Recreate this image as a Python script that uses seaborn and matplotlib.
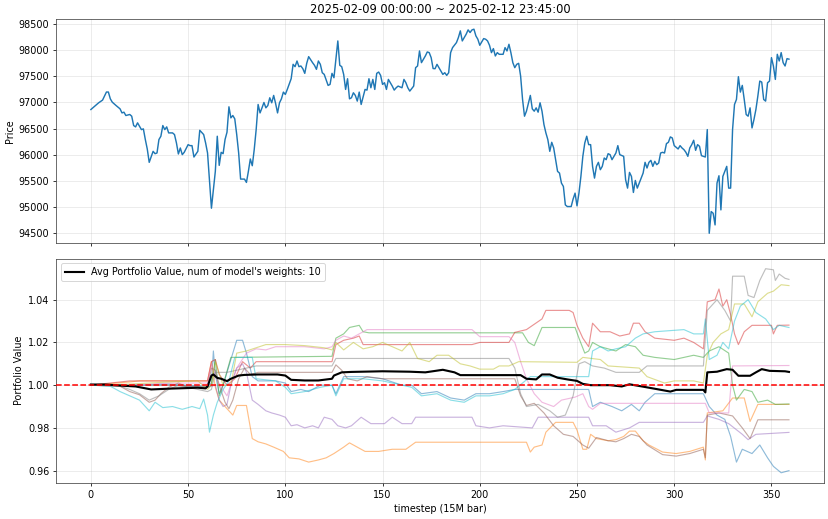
import matplotlib
matplotlib.use("Agg")
import matplotlib.pyplot as plt
import seaborn as sns

# ---- data ----
title_text = "2025-02-09 00:00:00 ~ 2025-02-12 23:45:00"

price_pts = [
    (0, 96865), (4, 96994), (6, 97045), (8, 97200), (9, 97200), (10, 97070), (11, 97006), (13, 96940),
    (15, 96878), (16, 96800), (17, 96814), (18, 96750), (20, 96770), (21, 96737), (22, 96558), (23, 96532),
    (24, 96610), (26, 96480), (27, 96494), (28, 96290), (29, 96108), (30, 95853), (32, 96064), (33, 96019),
    (34, 96032), (35, 96290), (36, 96353), (37, 96558), (38, 96480), (39, 96532), (40, 96417), (42, 96417),
    (43, 96385), (44, 96225), (45, 96013), (46, 96128), (47, 96000), (48, 96045), (50, 96192), (51, 96173),
    (52, 96173), (53, 95955), (55, 96064), (56, 96467), (58, 96385), (59, 96225), (60, 96032), (62, 94974),
    (63, 95327), (64, 95680), (65, 96353), (66, 95795), (67, 96045), (68, 96019), (69, 96290), (70, 96430),
    (71, 96917), (72, 96705), (73, 96750), (74, 96686), (75, 96385), (76, 96032), (77, 95532), (79, 95532),
    (80, 95468), (81, 95680), (82, 95917), (83, 95788), (84, 96096), (85, 96480), (86, 96962), (87, 96800),
    (88, 96897), (89, 97000), (90, 96897), (91, 96942), (92, 97090), (93, 96994), (94, 97135), (95, 96981),
    (96, 96800), (97, 96994), (98, 97070), (99, 97199), (100, 97154), (101, 97250), (103, 97455), (104, 97731),
    (105, 97686), (106, 97795), (107, 97686), (108, 97699), (109, 97647), (110, 97558), (111, 97750), (112, 97878),
    (114, 97763), (115, 97712), (116, 97635), (117, 97795), (118, 97731), (119, 97570), (120, 97538), (122, 97327),
    (123, 97346), (124, 97558), (125, 97474), (127, 98179), (128, 97712), (129, 97686), (130, 97538), (131, 97250),
    (132, 97455), (133, 97070), (134, 97090), (135, 97186), (136, 97135), (137, 97026), (138, 97199), (139, 96962),
    (141, 97250), (142, 97237), (143, 97455), (144, 97282), (145, 97442), (146, 97250), (147, 97558), (148, 97583),
    (149, 97519), (150, 97346), (151, 97378), (152, 97250), (153, 97442), (155, 97314), (156, 97237), (157, 97282),
    (158, 97314), (160, 97282), (161, 97442), (162, 97378), (163, 97282), (164, 97218), (166, 97314), (167, 97667),
    (168, 97699), (169, 97987), (170, 97763), (172, 97891), (173, 97968), (174, 97955), (175, 97859), (176, 97650),
    (177, 97647), (178, 97731), (180, 97603), (181, 97538), (182, 97570), (183, 97519), (184, 97570), (185, 97955),
    (186, 98051), (188, 98147), (189, 98244), (190, 98372), (191, 98179), (193, 98308), (194, 98391), (195, 98340),
    (196, 98391), (197, 98404), (198, 98276), (199, 98212), (200, 98096), (202, 98224), (203, 98212), (204, 98179),
    (205, 98096), (206, 97955), (207, 98032), (208, 97891), (209, 97955), (210, 97923), (212, 97923), (213, 98051),
    (214, 97987), (215, 98115), (216, 97955), (217, 97763), (218, 97667), (219, 97731), (220, 97750), (221, 97506),
    (222, 97058), (223, 96737), (224, 96833), (226, 97135), (227, 96878), (228, 96833), (229, 96897), (230, 96814),
    (231, 96994), (232, 96833), (233, 96577), (234, 96417), (235, 96288), (236, 96064), (237, 96237), (238, 96130),
    (239, 95904), (240, 95680), (241, 95647), (242, 95455), (243, 95391), (244, 95038), (245, 95006), (247, 95006),
    (248, 95150), (249, 95263), (250, 95019), (251, 95263), (252, 95583), (253, 95968), (254, 96224), (255, 96353),
    (256, 96192), (257, 96192), (258, 95776), (259, 95551), (260, 95776), (261, 95853), (262, 95712), (263, 95776),
    (264, 95936), (265, 95904), (266, 96019), (267, 96000), (268, 95904), (270, 96032), (271, 96173), (272, 96000),
    (274, 95968), (275, 95519), (276, 95359), (277, 95660), (278, 95583), (279, 95276), (280, 95506), (281, 95359),
    (282, 95455), (284, 95647), (285, 95853), (286, 95744), (287, 95853), (288, 95891), (289, 95776), (290, 95872),
    (291, 95808), (292, 95840), (293, 96032), (294, 96045), (295, 96032), (296, 96212), (297, 96237), (298, 96340),
    (299, 96320), (300, 96173), (302, 96109), (303, 96173), (304, 96128), (305, 96096), (306, 96045), (307, 95968),
    (308, 96128), (309, 96192), (310, 96276), (311, 96083), (312, 96192), (313, 96160), (314, 95981), (316, 95955),
    (317, 96481), (318, 94494), (319, 94910), (320, 94878), (321, 94654), (322, 95455), (323, 95596), (324, 94942),
    (325, 95583), (326, 95680), (327, 95776), (328, 95359), (329, 95359), (330, 96481), (331, 96962), (332, 97058),
    (333, 97494), (334, 97199), (335, 97327), (336, 97058), (337, 96769), (338, 96737), (339, 96897), (340, 96512),
    (341, 96673), (342, 96865), (343, 97122), (344, 97410), (345, 97391), (346, 97058), (347, 97026), (348, 97378),
    (349, 97410), (350, 97859), (351, 97699), (352, 97442), (353, 97923), (354, 97795), (355, 97955), (356, 97763),
    (357, 97699), (358, 97840), (359, 97830),
]

# portfolio value of each of the 10 model weights (tab10 order)
pv_blue = [
    (0, 1.0), (20, 1.0), (40, 1.0005), (60, 0.9995), (62, 1.001), (63, 1.016), (64, 1.005), (66, 0.996),
    (68, 1.0), (72, 1.012), (75, 1.021), (78, 1.021), (80, 1.015), (83, 1.004), (86, 1.002), (95, 1.002),
    (100, 1.001), (103, 0.997), (108, 0.998), (112, 0.997), (118, 1.0), (124, 1.0), (126, 0.996), (130, 1.004),
    (140, 1.004), (150, 1.003), (160, 1.0), (165, 1.0), (170, 0.996), (178, 0.997), (185, 0.994), (192, 0.993),
    (198, 0.996), (205, 0.996), (212, 0.997), (218, 0.998), (256, 0.998), (258, 0.990), (262, 0.992), (268, 0.990),
    (273, 0.988), (278, 0.991), (282, 0.988), (285, 0.992), (290, 0.996), (315, 0.996), (318, 0.990), (322, 0.986),
    (326, 0.984), (329, 0.976), (332, 0.964), (335, 0.970), (340, 0.968), (344, 0.972), (348, 0.966), (351, 0.962),
    (355, 0.959), (359, 0.960),
]
pv_orange = [
    (0, 1.0), (20, 1.0015), (25, 1.002), (60, 1.002), (62, 1.011), (64, 0.999), (66, 0.993), (69, 0.990),
    (73, 0.986), (75, 0.9905), (80, 0.9905), (83, 0.975), (86, 0.9735), (90, 0.9725), (94, 0.971), (99, 0.969),
    (102, 0.966), (107, 0.9655), (112, 0.964), (117, 0.965), (121, 0.966), (125, 0.968), (130, 0.971), (133, 0.973),
    (138, 0.9705), (141, 0.969), (148, 0.969), (155, 0.970), (162, 0.970), (167, 0.9733), (224, 0.9733), (226, 0.9687),
    (228, 0.971), (232, 0.972), (234, 0.978), (239, 0.9826), (248, 0.9826), (250, 0.979), (253, 0.970), (255, 0.970),
    (257, 0.977), (260, 0.975), (266, 0.974), (270, 0.9745), (274, 0.976), (277, 0.9785), (280, 0.9785), (284, 0.974),
    (287, 0.972), (294, 0.9687), (301, 0.968), (308, 0.969), (315, 0.971), (316, 0.965), (317, 0.987), (325, 0.988),
    (330, 0.994), (336, 0.994), (339, 0.983), (343, 0.991), (359, 0.991),
]
pv_green = [
    (0, 1.0), (20, 1.0), (40, 1.0), (60, 0.999), (62, 1.0), (64, 1.012), (66, 0.995), (68, 1.0),
    (72, 1.013), (124, 1.0135), (126, 1.022), (130, 1.024), (133, 1.027), (138, 1.028), (140, 1.025), (143, 1.0245),
    (222, 1.0245), (225, 1.020), (228, 1.0185), (232, 1.027), (249, 1.027), (251, 1.022), (254, 1.015), (256, 1.016),
    (258, 1.020), (262, 1.018), (266, 1.017), (270, 1.016), (275, 1.019), (280, 1.018), (284, 1.014), (290, 1.013),
    (300, 1.012), (310, 1.014), (315, 1.013), (318, 1.016), (323, 1.018), (328, 1.015), (330, 1.0), (332, 0.993),
    (336, 0.998), (340, 0.997), (343, 0.992), (348, 0.993), (352, 0.991), (359, 0.9912),
]
pv_red = [
    (0, 1.0), (20, 1.002), (60, 1.002), (62, 1.011), (64, 1.012), (66, 1.005), (70, 1.0), (74, 1.003),
    (78, 1.011), (82, 1.008), (85, 1.011), (124, 1.011), (126, 1.019), (130, 1.021), (135, 1.022), (138, 1.023),
    (140, 1.019), (196, 1.019), (200, 1.020), (215, 1.020), (218, 1.0247), (224, 1.026), (232, 1.031), (234, 1.035),
    (246, 1.035), (248, 1.034), (250, 1.028), (253, 1.022), (256, 1.018), (258, 1.029), (262, 1.025), (267, 1.025),
    (272, 1.023), (277, 1.024), (279, 1.029), (282, 1.029), (285, 1.025), (290, 1.022), (300, 1.021), (305, 1.022),
    (310, 1.020), (315, 1.017), (317, 1.039), (321, 1.040), (323, 1.045), (325, 1.037), (327, 1.040), (329, 1.033),
    (331, 1.024), (333, 1.019), (336, 1.025), (340, 1.028), (350, 1.028), (351, 1.024), (353, 1.028), (359, 1.0281),
]
pv_purple = [
    (0, 1.0), (20, 1.0), (40, 1.0), (60, 0.999), (64, 1.0), (66, 0.993), (68, 0.990), (70, 0.991),
    (72, 1.0), (75, 1.008), (78, 1.010), (80, 1.006), (83, 0.993), (86, 0.991), (90, 0.988), (93, 0.987),
    (97, 0.986), (100, 0.985), (103, 0.981), (106, 0.9815), (110, 0.980), (114, 0.981), (117, 0.980), (120, 0.985),
    (124, 0.984), (127, 0.981), (131, 0.980), (134, 0.981), (139, 0.985), (144, 0.982), (151, 0.982), (155, 0.985),
    (160, 0.982), (165, 0.982), (167, 0.985), (196, 0.985), (198, 0.981), (205, 0.980), (212, 0.981), (227, 0.980),
    (230, 0.985), (256, 0.985), (258, 0.981), (265, 0.981), (270, 0.978), (277, 0.980), (282, 0.9826), (315, 0.9826),
    (317, 0.9856), (323, 0.984), (328, 0.982), (335, 0.977), (338, 0.9745), (342, 0.977), (359, 0.9779),
]
pv_brown = [
    (0, 1.0), (15, 0.9995), (20, 0.997), (25, 0.9955), (30, 0.992), (33, 0.993), (36, 0.996), (40, 0.999),
    (45, 1.001), (50, 0.999), (60, 0.999), (62, 1.008), (64, 1.007), (66, 1.0), (69, 0.992), (71, 0.989),
    (73, 0.993), (76, 1.003), (79, 1.008), (82, 1.005), (86, 1.006), (124, 1.006), (126, 1.0095), (129, 1.007),
    (132, 1.003), (137, 1.002), (142, 1.004), (150, 1.003), (218, 1.003), (221, 0.995), (224, 0.9905), (228, 0.9915),
    (233, 0.987), (238, 0.981), (243, 0.977), (248, 0.976), (253, 0.972), (256, 0.9705), (260, 0.9755), (266, 0.974),
    (270, 0.9735), (274, 0.975), (278, 0.977), (282, 0.976), (286, 0.972), (294, 0.9675), (301, 0.9668), (308, 0.968),
    (315, 0.970), (316, 0.966), (317, 0.986), (323, 0.987), (330, 0.9856), (335, 0.980), (339, 0.975), (343, 0.9838),
    (359, 0.9838),
]
pv_pink = [
    (0, 1.0), (20, 1.0), (40, 1.001), (60, 1.001), (62, 1.010), (65, 1.002), (70, 0.995), (75, 1.008),
    (80, 1.015), (85, 1.017), (90, 1.0165), (95, 1.018), (110, 1.018), (120, 1.017), (124, 1.018), (126, 1.021),
    (130, 1.023), (134, 1.022), (142, 1.026), (196, 1.026), (200, 1.0227), (215, 1.0227), (218, 1.020), (221, 1.011),
    (224, 1.003), (228, 0.996), (232, 0.992), (238, 0.990), (242, 0.993), (249, 0.9944), (253, 0.996), (256, 0.990),
    (258, 0.9887), (262, 0.9915), (316, 0.9915), (318, 0.987), (328, 0.987), (330, 1.009), (359, 1.0092),
]
pv_gray = [
    (0, 1.0), (15, 0.9995), (20, 0.998), (25, 0.996), (30, 0.993), (35, 0.995), (40, 0.998), (45, 1.0),
    (50, 0.999), (55, 0.998), (60, 0.997), (62, 0.998), (64, 1.006), (70, 1.006), (80, 1.008), (85, 1.009),
    (124, 1.009), (126, 1.0125), (215, 1.0125), (218, 1.008), (221, 0.996), (224, 0.990), (230, 0.991), (236, 0.988),
    (240, 0.985), (244, 0.986), (248, 0.995), (251, 1.010), (254, 1.011), (258, 1.009), (264, 1.008), (270, 1.006),
    (282, 1.006), (286, 1.009), (315, 1.009), (317, 1.035), (322, 1.040), (326, 1.035), (329, 1.030), (330, 1.051),
    (336, 1.051), (338, 1.042), (341, 1.041), (344, 1.049), (347, 1.0545), (351, 1.054), (352, 1.049), (354, 1.052),
    (357, 1.050), (359, 1.0495),
]
pv_olive = [
    (0, 1.0), (20, 1.0005), (30, 1.001), (40, 1.0015), (55, 1.002), (60, 0.998), (62, 1.0), (64, 1.011),
    (68, 1.0), (72, 1.0), (75, 1.015), (80, 1.016), (85, 1.0175), (90, 1.019), (100, 1.019), (110, 1.0185),
    (120, 1.0175), (124, 1.0165), (126, 1.020), (130, 1.0165), (135, 1.020), (140, 1.017), (145, 1.018), (150, 1.020),
    (155, 1.018), (160, 1.016), (164, 1.020), (168, 1.0125), (174, 1.011), (178, 1.014), (184, 1.014), (190, 1.010),
    (195, 1.009), (200, 1.0075), (207, 1.0075), (210, 1.009), (215, 1.009), (220, 1.011), (250, 1.0107), (253, 1.013),
    (262, 1.012), (266, 1.009), (282, 1.008), (286, 1.004), (295, 1.001), (300, 1.002), (310, 1.002), (315, 1.001),
    (317, 1.014), (320, 1.020), (324, 1.024), (328, 1.026), (331, 1.038), (336, 1.038), (340, 1.032), (343, 1.039),
    (348, 1.043), (351, 1.044), (355, 1.047), (359, 1.0466),
]
pv_cyan = [
    (0, 1.0), (10, 0.9995), (15, 0.997), (20, 0.995), (25, 0.993), (30, 0.988), (33, 0.992), (37, 0.9895),
    (42, 0.990), (47, 0.9887), (52, 0.990), (56, 0.989), (58, 0.9935), (60, 0.986), (61, 0.978), (63, 0.986),
    (65, 0.992), (68, 0.998), (71, 1.002), (74, 1.013), (83, 1.013), (85, 1.003), (95, 1.002), (100, 0.999),
    (103, 0.996), (110, 0.997), (118, 0.999), (124, 1.0), (126, 0.995), (130, 1.003), (140, 1.003), (150, 1.002),
    (160, 1.0), (165, 0.999), (170, 0.995), (178, 0.996), (185, 0.993), (192, 0.992), (198, 0.995), (205, 0.995),
    (212, 0.996), (218, 0.998), (222, 1.001), (226, 1.004), (256, 1.004), (258, 1.016), (262, 1.018), (266, 1.016),
    (270, 1.017), (275, 1.018), (280, 1.022), (284, 1.024), (290, 1.025), (305, 1.026), (310, 1.024), (315, 1.024),
    (316, 1.031), (318, 1.012), (322, 1.014), (325, 1.020), (328, 1.017), (331, 1.030), (334, 1.037), (338, 1.040),
    (342, 1.034), (347, 1.031), (351, 1.026), (354, 1.028), (359, 1.027),
]

pv_avg = [
    (0, 1.0003), (7, 1.0003), (17, 0.9997), (23, 0.9994), (31, 0.998), (41, 0.9984), (55, 0.9988), (59, 0.9985),
    (60, 0.9994), (62, 1.0045), (63, 1.005), (65, 1.0034), (67, 1.003), (70, 1.0019), (72, 1.003), (76, 1.0045),
    (79, 1.0048), (86, 1.005), (96, 1.005), (100, 1.0045), (103, 1.0025), (110, 1.0022), (117, 1.0022), (124, 1.003),
    (125, 1.0045), (129, 1.006), (134, 1.0062), (150, 1.0065), (164, 1.0063), (172, 1.006), (181, 1.0072), (187, 1.006),
    (190, 1.0047), (221, 1.0047), (224, 1.003), (229, 1.0027), (232, 1.005), (236, 1.005), (240, 1.0035), (245, 1.0027),
    (250, 1.002), (253, 1.0006), (257, 1.0), (267, 1.0), (273, 0.9994), (277, 1.0004), (284, 0.9993), (292, 0.998),
    (298, 0.997), (301, 0.9978), (315, 0.9978), (316, 0.9966), (317, 1.006), (322, 1.0063), (327, 1.0075), (330, 1.0072),
    (333, 1.0044), (339, 1.0044), (342, 1.006), (345, 1.0075), (349, 1.0067), (357, 1.0065), (359, 1.0062),
]

weights_runs = [pv_blue, pv_orange, pv_green, pv_red, pv_purple,
                pv_brown, pv_pink, pv_gray, pv_olive, pv_cyan]
n_weights = 10


def unzip(pts):
    return [p[0] for p in pts], [p[1] for p in pts]


fig, (ax1, ax2) = plt.subplots(2, 1, figsize=(12, 519 / 69), dpi=69, sharex=True)
fig.subplots_adjust(left=0.0676, right=0.995, top=0.9634, bottom=0.0694, hspace=0.067)

# price
px, py = unzip(price_pts)
sns.lineplot(x=px, y=py, ax=ax1, color="#1f77b4", linewidth=1.5)
ax1.set_title(title_text, fontsize=12)
ax1.set_ylabel("Price")
ax1.set_yticks(range(94500, 98501, 500))
ax1.grid(True, alpha=0.3)
ax1.tick_params(labelbottom=False)
for s in ax1.spines.values():
    s.set_color("#444444")

# portfolio values
palette = sns.color_palette("tab10", n_weights)
for pts, c in zip(weights_runs, palette):
    tx, ty = unzip(pts)
    sns.lineplot(x=tx, y=ty, ax=ax2, color=c, alpha=0.5, linewidth=1.2)

ax_x, ax_y = unzip(pv_avg)
sns.lineplot(x=ax_x, y=ax_y, ax=ax2, color="black", linewidth=2.2,
             label=f"Avg Portfolio Value, num of model's weights: {n_weights}")
ax2.axhline(1.0, color="#ff0000", linestyle="--", linewidth=1.6, zorder=5)
ax2.set_yticks([0.96, 0.98, 1.00, 1.02, 1.04])
ax2.set_ylabel("Portfolio Value")
ax2.set_xlabel("timestep (15M bar)")
ax2.grid(True, alpha=0.3)
ax2.legend(loc="upper left")
for s in ax2.spines.values():
    s.set_color("#444444")

fig.savefig("out.png", dpi=69)
